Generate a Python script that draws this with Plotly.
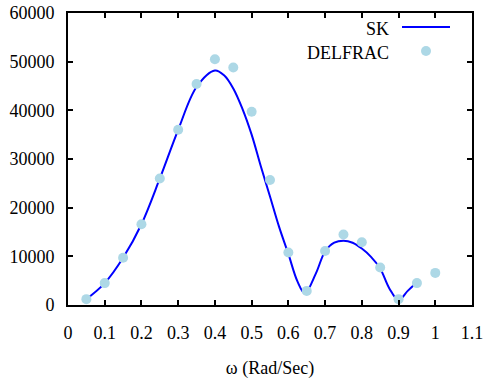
import plotly.graph_objects as go

# SK curve
sk_x = [0.05, 0.1, 0.15, 0.2, 0.25, 0.3, 0.35, 0.4, 0.425, 0.45, 0.475, 0.5, 0.525, 0.55, 0.575, 0.6, 0.625,
        0.645, 0.675, 0.7, 0.725, 0.75, 0.775, 0.8, 0.825, 0.85, 0.875, 0.9, 0.925, 0.945]
sk_y = [1200, 4500, 9700, 16600, 26000, 36000, 44800, 48200, 47200, 44500, 40300, 35000, 28500, 22300, 16000, 10500, 4800,
        2400, 6500, 11000, 12800, 13200, 12800, 11600, 9900, 7500, 3400, 1000, 2900, 4300]

# DELFRAC points
df_x = [0.05, 0.1, 0.15, 0.2, 0.25, 0.3, 0.35, 0.4, 0.45, 0.5, 0.55, 0.6, 0.65, 0.7, 0.75, 0.8, 0.85, 0.9, 0.95, 1.0]
df_y = [1200, 4500, 9700, 16600, 26000, 36000, 45400, 50500, 48800, 39700, 25700, 10800, 2900, 11100, 14500, 12900, 7700, 1200, 4500, 6600]

x_ticks = [0, 0.1, 0.2, 0.3, 0.4, 0.5, 0.6, 0.7, 0.8, 0.9, 1.0, 1.1]
x_ticklabels = ["0", "0.1", "0.2", "0.3", "0.4", "0.5", "0.6", "0.7", "0.8", "0.9", "1", "1.1"]
y_ticks = [0, 10000, 20000, 30000, 40000, 50000, 60000]
y_ticklabels = ["0", "10000", "20000", "30000", "40000", "50000", "60000"]

FONT = "Liberation Serif"

fig = go.Figure()
fig.add_trace(go.Scatter(x=sk_x, y=sk_y, mode="lines", name="SK",
                         line=dict(color="#0000ff", width=2, shape="spline", smoothing=1.0),
                         showlegend=False))
fig.add_trace(go.Scatter(x=df_x, y=df_y, mode="markers", name="DELFRAC",
                         marker=dict(color="#add8e6", size=10),
                         showlegend=False))

# legend (text on the left of the sample, gnuplot style)
leg_font = dict(family=FONT, size=18, color="black")
fig.add_annotation(xref="paper", yref="paper", x=(391 - 68) / 404, y=1 - (29 - 13) / 292,
                   text="SK", showarrow=False, xanchor="right", yanchor="middle", font=leg_font)
fig.add_annotation(xref="paper", yref="paper", x=(391 - 68) / 404, y=1 - (53 - 13) / 292,
                   text="DELFRAC", showarrow=False, xanchor="right", yanchor="middle", font=leg_font)
fig.add_shape(type="line", xref="paper", yref="paper",
              x0=(402 - 68) / 404, x1=(450 - 68) / 404,
              y0=1 - (27 - 13) / 292, y1=1 - (27 - 13) / 292,
              line=dict(color="#0000ff", width=2))
fig.add_shape(type="circle", xref="paper", yref="paper",
              x0=(421 - 68) / 404, x1=(431 - 68) / 404,
              y0=1 - (56 - 13) / 292, y1=1 - (46 - 13) / 292,
              fillcolor="#add8e6", line=dict(width=0))

fig.update_layout(
    template="none", width=485, height=381, margin=dict(l=68, r=13, t=13, b=76),
    plot_bgcolor="white", paper_bgcolor="white",
    font=dict(family=FONT, size=18, color="black"),
    xaxis=dict(range=[0, 1.1], tickmode="array", tickvals=x_ticks, ticktext=x_ticklabels,
               tickfont=dict(family=FONT, size=18, color="black"), ticklabelstandoff=10,
               title=dict(text="ω (Rad/Sec)", font=dict(family=FONT, size=18, color="black"), standoff=20),
               showline=True, linecolor="black", linewidth=2, mirror="allticks",
               ticks="inside", ticklen=5, tickwidth=1.5, tickcolor="black",
               showgrid=False, zeroline=False, automargin=False),
    yaxis=dict(range=[0, 60000], tickmode="array", tickvals=y_ticks, ticktext=y_ticklabels,
               tickfont=dict(family=FONT, size=18, color="black"), ticklabelstandoff=8,
               showline=True, linecolor="black", linewidth=2, mirror="allticks",
               ticks="inside", ticklen=5, tickwidth=1.5, tickcolor="black",
               showgrid=False, zeroline=False, automargin=False),
)

fig.write_html("out.html")
